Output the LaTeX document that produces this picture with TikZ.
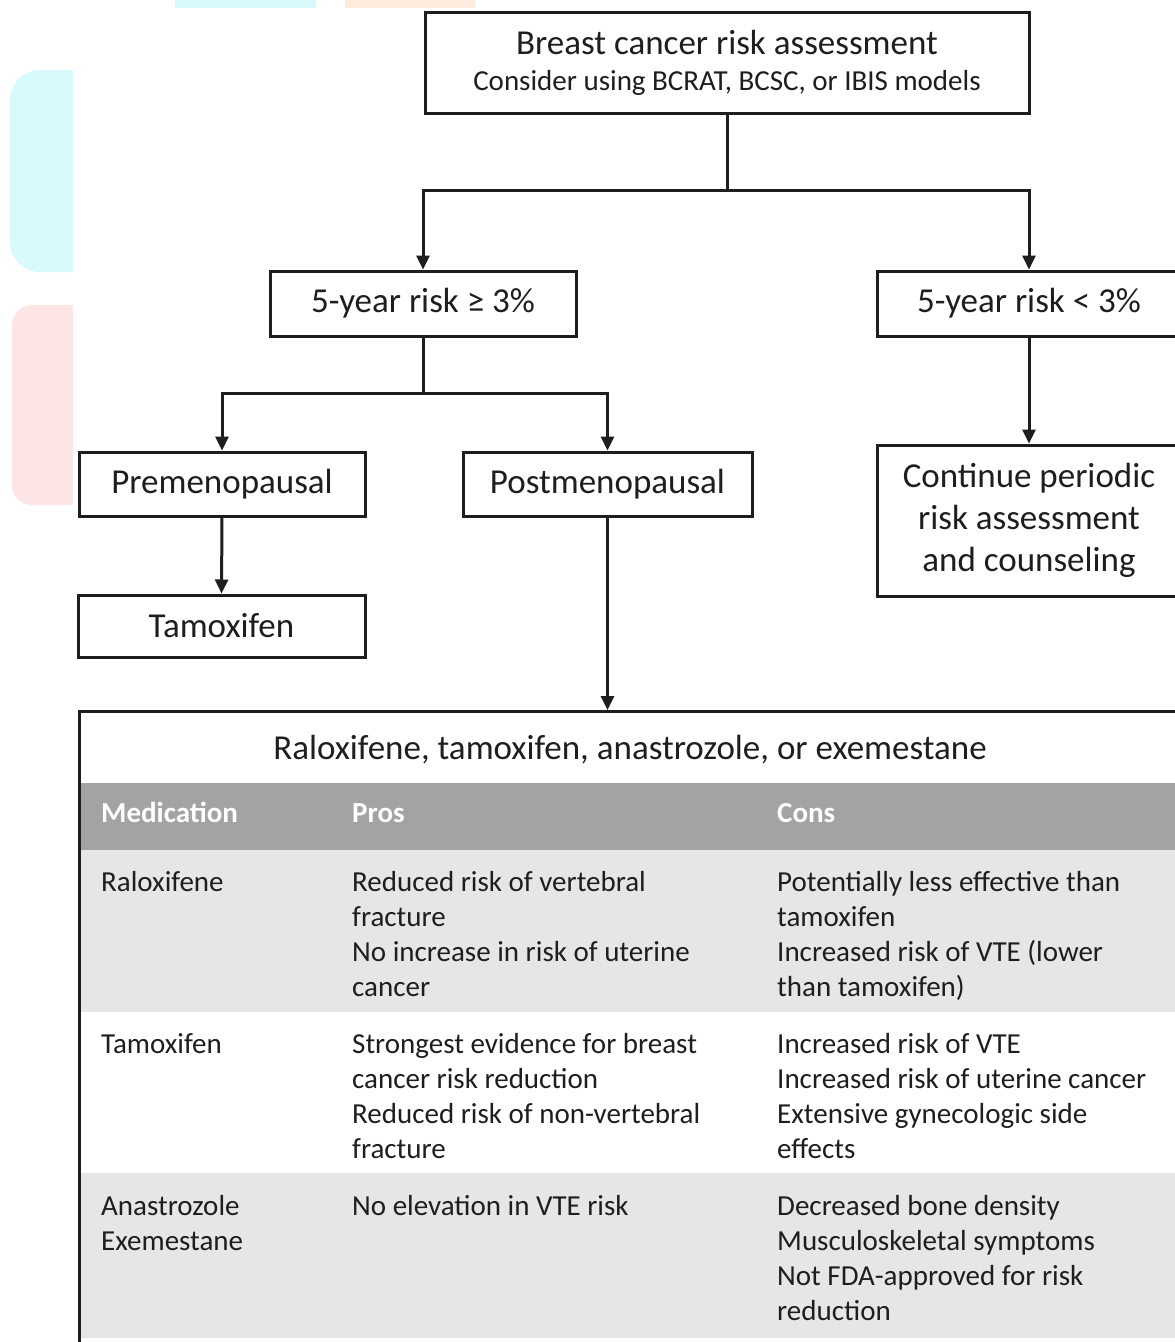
\documentclass[tikz,border=0pt]{standalone}
\usepackage{fontspec}
\setmainfont{Carlito}
\usetikzlibrary{arrows.meta}
\definecolor{ink}{HTML}{1E1E1E}
\definecolor{headgray}{HTML}{A3A3A3}
\definecolor{rowgray}{HTML}{E6E6E6}
\definecolor{wmcyan}{HTML}{D8FAFD}
\definecolor{wmpink}{HTML}{FDE5E5}
\definecolor{wmpeach}{HTML}{FDEBDD}

\begin{document}
\begin{tikzpicture}[x=1pt,y=-1pt,
  box/.style={draw=ink, line width=3pt, fill=white, inner sep=0pt, text=ink,
    align=center, font=\fontsize{35}{42}\selectfont},
  link/.style={draw=ink, line width=3pt},
  arr/.style={link, -{Triangle[length=14pt,width=13pt]}},
  cell/.style={anchor=north west, inner sep=0pt, text=ink, align=left,
    font=\fontsize{29}{35}\selectfont},
  headcell/.style={anchor=base west, inner sep=0pt, text=white,
    font=\fontsize{29}{35}\selectfont\bfseries},
]
\useasboundingbox (0,0) rectangle (1175,1342);
\clip (0,0) rectangle (1175,1342);
\fill[white] (0,0) rectangle (1175,1342);

% faint background marks along the left and top edges
\fill[wmcyan, rounded corners=30pt] (10,70) rectangle (120,272);
\fill[wmpink, rounded corners=20pt] (12,305) rectangle (120,505);
\fill[wmcyan] (175,0) rectangle (316,8);
\fill[wmpeach] (345,0) rectangle (475,8);
\fill[white] (73,8) rectangle (1175,1342);

% flowchart boxes
\node[box, minimum width=604pt, minimum height=101pt] (top) at (727,62.5)
  {Breast cancer risk assessment\\[-6pt]{\fontsize{29}{35}\selectfont Consider using BCRAT, BCSC, or IBIS models}};
\node[box, minimum width=306pt, minimum height=65pt] (hi) at (423,303.5) {5-year risk ≥ 3\%};
\node[box, minimum width=304pt, minimum height=65pt] (lo) at (1029,303.5) {5-year risk < 3\%};
\node[box, minimum width=286pt, minimum height=64pt] (pre) at (222,484) {Premenopausal};
\node[box, minimum width=289pt, minimum height=64pt] (post) at (607.5,484) {Postmenopausal};
\node[box, minimum width=287pt, minimum height=62pt] (tam) at (221.5,626) {Tamoxifen};
\node[box, minimum width=304pt, minimum height=151pt] (cont) at (1029,520.5)
  {Continue periodic\\risk assessment\\and counseling};

% medication table: row shading
\fill[headgray] (78,783) rectangle (1181,850);
\fill[rowgray] (78,850) rectangle (1181,1012);
\fill[rowgray] (78,1173) rectangle (1181,1338);
\node[draw=ink, line width=3pt, inner sep=0pt, anchor=north west,
  minimum width=1103pt, minimum height=640pt] (tbl) at (78,710) {};

\node[anchor=base, inner sep=0pt, text=ink, font=\fontsize{35}{42}\selectfont] (ttl) at (630,759)
  {Raloxifene, tamoxifen, anastrozole, or exemestane};

\node[headcell] (hmed) at (101,822) {Medication};
\node[headcell] (hpro) at (352,822) {Pros};
\node[headcell] (hcon) at (777,822) {Cons};

\node[cell] (m1) at (101,866.5) {\strut Raloxifene};
\node[cell] (p1) at (352,866.5) {\strut Reduced risk of vertebral\\fracture\\No increase in risk of uterine\\cancer};
\node[cell] (c1) at (777,866.5) {\strut Potentially less effective than\\tamoxifen\\Increased risk of VTE (lower\\than tamoxifen)};

\node[cell] (m2) at (101,1028.5) {\strut Tamoxifen};
\node[cell] (p2) at (352,1028.5) {\strut Strongest evidence for breast\\cancer risk reduction\\Reduced risk of non-vertebral\\fracture};
\node[cell] (c2) at (777,1028.5) {\strut Increased risk of VTE\\Increased risk of uterine cancer\\Extensive gynecologic side\\effects};

\node[cell] (m3) at (101,1190.5) {\strut Anastrozole\\Exemestane};
\node[cell] (p3) at (352,1190.5) {\strut No elevation in VTE risk};
\node[cell] (c3) at (777,1190.5) {\strut Decreased bone density\\Musculoskeletal symptoms\\Not FDA-approved for risk\\reduction};

% connectors
\coordinate (j1) at (727,190);
\coordinate (j2) at (423,393);
\draw[link] (top.south) -- (j1);
\draw[arr] (j1) -| (hi.north);
\draw[arr] (j1) -| (lo.north);
\draw[link] (hi.south) -- (j2);
\draw[arr] (j2) -| (pre.north);
\draw[arr] (j2) -| (post.north);
\draw[arr] (pre.south) -- (tam.north);
\draw[arr] (post.south) -- (post.south |- tbl.north);
\draw[arr] (lo.south) -- (cont.north);
\end{tikzpicture}
\end{document}
